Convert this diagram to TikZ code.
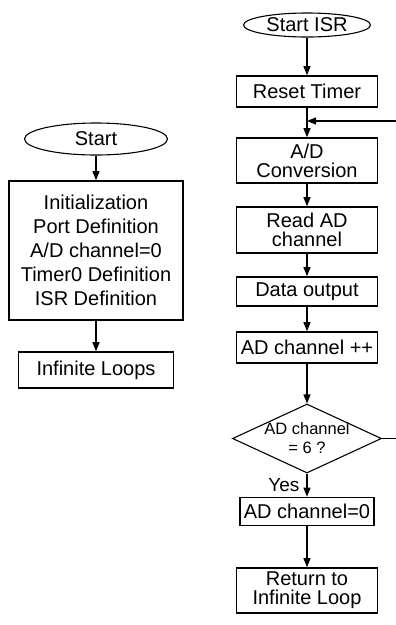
\documentclass[tikz,border=0pt]{standalone}
\usepackage{fontspec}
\setmainfont{Liberation Sans}
\usetikzlibrary{positioning,arrows.meta,shapes.geometric}

\begin{document}
\begin{tikzpicture}[
    x=1pt, y=-1pt,
    >={Triangle[length=9pt,width=7pt]},
    line width=1.1pt,
    term/.style={ellipse, draw, inner sep=0pt, font=\fontsize{20}{24}\selectfont},
    proc/.style={rectangle, draw, line width=1.6pt, minimum width=141pt, minimum height=31pt, inner sep=0pt, align=center, font=\fontsize{20}{19}\selectfont},
    decide/.style={diamond, draw, aspect=2.16, minimum width=149pt, minimum height=69pt, inner sep=-4pt, align=center, font=\fontsize{16.5}{19}\selectfont},
    lbl/.style={font=\fontsize{19}{22}\selectfont, inner sep=0pt}
]
% Column positions
\def\colL{96}
\def\colR{307}

\useasboundingbox (0,0) rectangle (396,625);

% === Main program (left column) ===
\node[term, minimum width=143pt, minimum height=32pt] (start) at (\colL, 139) {Start};
\node[proc, minimum width=174pt, minimum height=139pt, font=\fontsize{20}{24}\selectfont] (init) at (\colL, 250.5)
    {Initialization\\Port Definition\\A/D channel=0\\Timer0 Definition\\ISR Definition};
\node[proc, minimum width=155pt, minimum height=36pt] (loops) at (\colL, 370) {Infinite Loops};

\draw[->] (start) -- (init);
\draw[->] (init) -- (loops);

% === Interrupt routine (right column) ===
\node[term, minimum width=127pt, minimum height=24pt] (isr) at (\colR, 25) {Start ISR};
\node[proc] (reset) at (\colR, 91.5) {Reset Timer};
\node[proc, minimum height=45pt] (adc) at (\colR, 160.5) {A/D\\Conversion};
\node[proc, minimum height=46pt] (read) at (\colR, 230) {Read AD\\channel};
\node[proc, minimum height=29pt] (out) at (\colR, 291.5) {Data output};
\node[proc] (inc) at (\colR, 347.5) {AD channel ++};
\node[decide] (check) at (\colR, 438.5) {AD channel\\= 6 ?};
\node[proc, minimum width=134pt, minimum height=28pt] (zero) at (\colR, 511.5) {AD channel=0};
\node[proc, minimum height=45pt] (ret) at (\colR, 590.5) {Return to\\Infinite Loop};

% loop-back ends, cut at the right edge
\coordinate (join) at (\colR, 121);
\coordinate (backR) at (396, 121);
\coordinate (noR) at (396, 438.5);

% Lines down the right column
\draw[->] (isr) -- (reset);
\draw[->] (reset) -- (adc);
\draw[->] (backR) -- (join);
\draw[->] (adc) -- (read);
\draw[->] (read) -- (out);
\draw[->] (out) -- (inc);
\draw[->] (inc) -- (check);
\draw[->] (check) -- node[lbl, left=7pt] {Yes} (zero);
\draw (check) -- (noR);
\draw[->] (zero) -- (ret);

\end{tikzpicture}
\end{document}
